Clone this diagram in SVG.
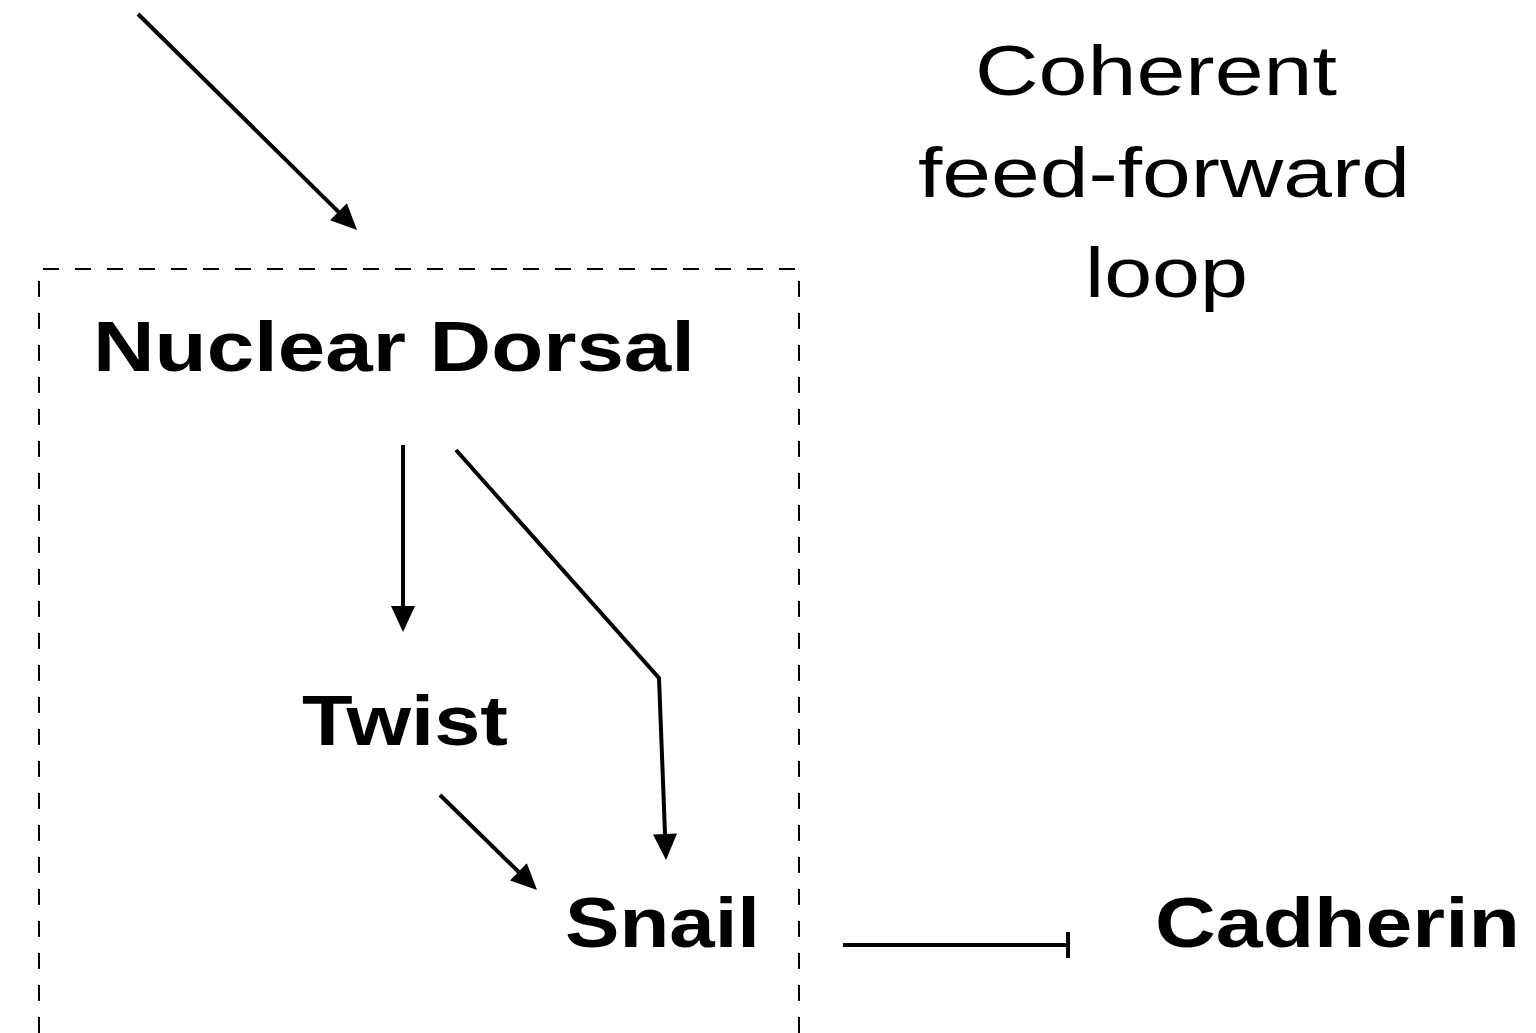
<svg xmlns="http://www.w3.org/2000/svg" width="1536" height="1033" viewBox="0 0 1536 1033">
<style>
.b{font-family:"Liberation Sans",Arial,sans-serif;font-weight:bold;font-size:70px;fill:#000}
.r{font-family:"Liberation Sans",Arial,sans-serif;font-size:70px;fill:#000}
.c{stroke:#000;stroke-width:4;fill:none}
</style>
<defs>
<marker id="ah" markerUnits="userSpaceOnUse" markerWidth="27" markerHeight="25" refX="10" refY="12" orient="auto" overflow="visible">
<path d="M0,0 L26,12 L0,24 z" fill="#000"/>
</marker>
</defs>
<rect width="1536" height="1033" fill="#fff"/>
<path d="M39,1033 L39,269 L799,269 L799,1033" fill="none" stroke="#000" stroke-width="2" stroke-dasharray="16 16"/>
<g id="connectors">
<line class="c" x1="138" y1="14" x2="345.6" y2="218.8" marker-end="url(#ah)"/>
<line class="c" x1="403" y1="445" x2="403" y2="616" marker-end="url(#ah)"/>
<polyline class="c" points="456,450 659,678 665.4,844" marker-end="url(#ah)"/>
<line class="c" x1="440" y1="795" x2="525.6" y2="878.8" marker-end="url(#ah)"/>
<line class="c" x1="843" y1="945" x2="1068" y2="945"/>
<line class="c" x1="1068" y1="932" x2="1068" y2="958"/>
</g>
<g id="label"><text class="r" x="975" y="95" textLength="362" lengthAdjust="spacingAndGlyphs">Coherent</text>
<text class="r" x="918" y="197" textLength="492" lengthAdjust="spacingAndGlyphs">feed-forward</text>
<text class="r" x="1085" y="297" textLength="163" lengthAdjust="spacingAndGlyphs">loop</text></g>
<g id="nuclear-dorsal"><text class="b" x="93" y="371" textLength="602" lengthAdjust="spacingAndGlyphs">Nuclear Dorsal</text></g>
<g id="twist"><text class="b" x="302" y="745" textLength="206" lengthAdjust="spacingAndGlyphs">Twist</text></g>
<g id="snail"><text class="b" x="565" y="947" textLength="195" lengthAdjust="spacingAndGlyphs">Snail</text></g>
<g id="cadherin"><text class="b" x="1155" y="947" textLength="365" lengthAdjust="spacingAndGlyphs">Cadherin</text></g>
</svg>
